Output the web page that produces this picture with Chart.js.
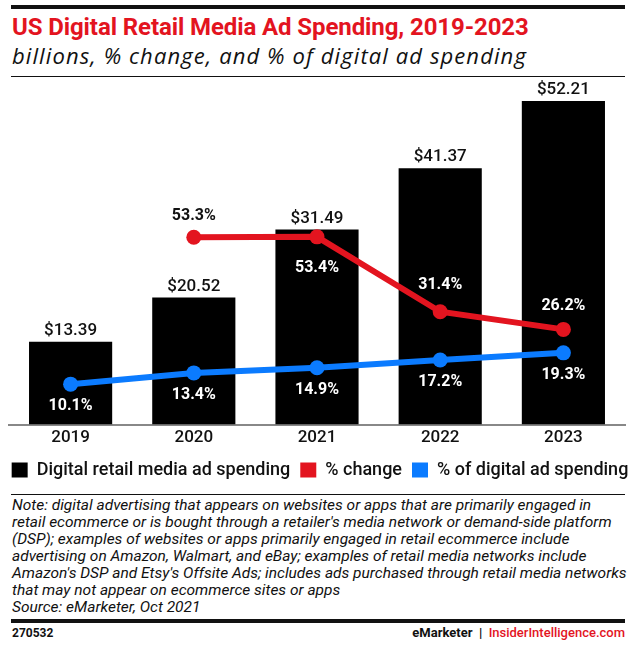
<!DOCTYPE html>
<html>
<head>
<meta charset="utf-8">
<script src="https://cdn.jsdelivr.net/npm/chart.js@4.4.0/dist/chart.umd.min.js"></script>
<style>
  html, body { margin: 0; padding: 0; background: #fff; }
  body { width: 640px; height: 652px; position: relative; overflow: hidden; font-family: Roboto, "Noto Sans", sans-serif; color: #111; }
  .rule { position: absolute; left: 11px; width: 614px; background: #111; }
  #title { position: absolute; left: 12px; top: 13px; font-size: 24px; font-weight: 700; color: #e3141f; white-space: nowrap; letter-spacing: -0.1px; }
  #subtitle { position: absolute; left: 12px; top: 40px; font-family: "Open Sans", Roboto, sans-serif; font-size: 22px; font-style: italic; font-weight: 400; letter-spacing: 1.1px; white-space: nowrap; }
  #chart-wrap { position: absolute; left: 0; top: 80px; width: 640px; height: 409px; }
  #note { position: absolute; left: 12px; top: 497px; font-family: "Liberation Sans Narrow", Roboto, sans-serif; font-style: italic; font-size: 15.5px; line-height: 17px; white-space: nowrap; color: #111; }
  #footer-id { position: absolute; left: 12px; top: 626px; font-size: 12px; font-weight: 700; }
  #footer-brand { position: absolute; right: 15px; top: 625px; font-size: 13px; font-weight: 700; }
  #footer-brand .red { color: #e3141f; font-weight: 500; }
</style>
</head>
<body>
<div class="rule" style="top:5px;height:4px"></div>
<div id="title">US Digital Retail Media Ad Spending, 2019-2023</div>
<div id="subtitle">billions, % change, and % of digital ad spending</div>
<div class="rule" style="top:76px;height:1px"></div>

<div id="chart-wrap"><canvas id="chart"></canvas></div>

<div class="rule" style="top:494px;height:1px"></div>
<div id="note">Note: digital advertising that appears on websites or apps that are primarily engaged in<br>retail ecommerce or is bought through a retailer's media network or demand-side platform<br>(DSP); examples of websites or apps primarily engaged in retail ecommerce include<br>advertising on Amazon, Walmart, and eBay; examples of retail media networks include<br>Amazon's DSP and Etsy's Offsite Ads; includes ads purchased through retail media networks<br>that may not appear on ecommerce sites or apps<br>Source: eMarketer, Oct 2021</div>
<div class="rule" style="top:619px;height:4px"></div>
<div id="footer-id">270532</div>
<div id="footer-brand">eMarketer &nbsp;|&nbsp; <span class="red">InsiderIntelligence.com</span></div>

<script>
const years = ['2019', '2020', '2021', '2022', '2023'];
const retailSpend = [13.39, 20.52, 31.49, 41.37, 52.21];
const pctChange = [null, 53.3, 53.4, 31.4, 26.2];
const pctOfDigital = [10.1, 13.4, 14.9, 17.2, 19.3];

const RED = '#e3141f';
const BLUE = '#0b7bff';

// draws the value labels next to bars and points
const valueLabels = {
    id: 'valueLabels',
    afterDatasetsDraw(chart) {
        const ctx = chart.ctx;
        const barMeta = chart.getDatasetMeta(0);
        ctx.save();
        ctx.textAlign = 'center';
        ctx.textBaseline = 'middle';
        chart.data.datasets.forEach((ds, i) => {
            const meta = chart.getDatasetMeta(i);
            meta.data.forEach((el, j) => {
                const v = ds.data[j];
                if (v == null) return;
                let y, text;
                if (meta.type === 'bar') {
                    y = el.y - 11;
                    text = '$' + v.toFixed(2);
                    ctx.font = '500 17px Roboto';
                } else {
                    y = el.y + ds.labelOffsets[j];
                    text = v.toFixed(1) + '%';
                    ctx.font = '700 16px Roboto';
                }
                const bar = barMeta.data[j];
                const inside = y > bar.y && y < bar.base;
                ctx.fillStyle = inside ? '#fff' : '#111';
                ctx.fillText(text, el.x, y);
            });
        });
        ctx.restore();
    }
};

// invisible side axes just keep the gutters, so the legend gets the full width
function gutter(width) {
    return function(scale) { scale.width = width; };
}

const ctx = document.getElementById('chart').getContext('2d');
const chart = new Chart(ctx, {
    type: 'bar',
    data: {
        labels: years,
        datasets: [
            {
                type: 'bar',
                label: 'Digital retail media ad spending',
                data: retailSpend,
                backgroundColor: '#000',
                yAxisID: 'y',
                categoryPercentage: 1,
                barPercentage: 0.675,
                order: 3
            },
            {
                type: 'line',
                label: '% change',
                data: pctChange,
                borderColor: RED,
                backgroundColor: RED,
                borderWidth: 6,
                pointRadius: 7.5,
                pointBackgroundColor: RED,
                pointBorderWidth: 0,
                tension: 0,
                yAxisID: 'y2',
                labelOffsets: [0, -21, 31, -27, -23],
                order: 2
            },
            {
                type: 'line',
                label: '% of digital ad spending',
                data: pctOfDigital,
                borderColor: BLUE,
                backgroundColor: BLUE,
                borderWidth: 6,
                pointRadius: 7.5,
                pointBackgroundColor: BLUE,
                pointBorderWidth: 0,
                tension: 0,
                yAxisID: 'y2',
                labelOffsets: [22, 22, 22, 22, 22],
                order: 1
            }
        ]
    },
    options: {
        responsive: true,
        maintainAspectRatio: false,
        animation: false,
        layout: {
            padding: { top: 5, left: 0, right: 0, bottom: 0 }
        },
        scales: {
            x: {
                grid: { display: false, drawTicks: false },
                border: { display: true, color: '#888', width: 2 },
                ticks: {
                    color: '#111',
                    padding: 3,
                    font: { family: 'Roboto', size: 17, weight: '500' }
                }
            },
            y: {
                position: 'left',
                min: 0,
                max: 54.4,
                grid: { display: false, drawTicks: false },
                border: { display: false },
                ticks: { display: false },
                afterFit: gutter(9)
            },
            y2: {
                position: 'right',
                min: -1.79,
                max: 97.3,
                grid: { display: false, drawTicks: false },
                border: { display: false },
                ticks: { display: false },
                afterFit: gutter(15)
            }
        },
        plugins: {
            legend: {
                position: 'bottom',
                labels: {
                    boxWidth: 16,
                    boxHeight: 15,
                    padding: 10,
                    color: '#111',
                    font: { family: 'Roboto', size: 18, weight: '500' },
                    sort: (a, b) => a.datasetIndex - b.datasetIndex,
                    generateLabels: function(chart) {
                        const items = Chart.defaults.plugins.legend.labels.generateLabels(chart);
                        items.forEach(item => {
                            item.lineWidth = 0;
                            item.strokeStyle = 'rgba(0,0,0,0)';
                        });
                        return items;
                    }
                }
            },
            tooltip: { enabled: false }
        }
    },
    plugins: [valueLabels]
});
</script>
</body>
</html>
